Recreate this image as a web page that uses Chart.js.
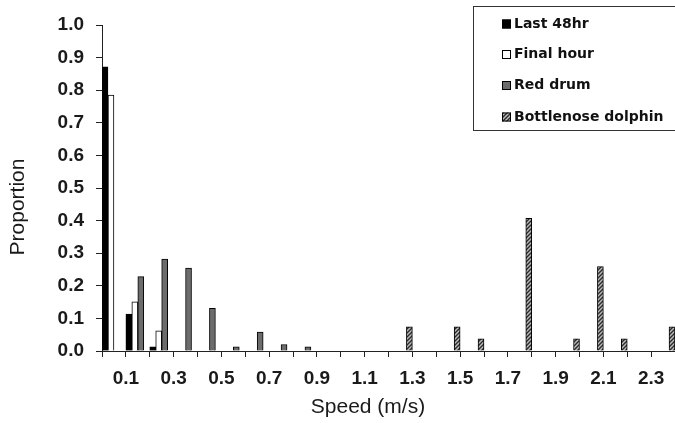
<!DOCTYPE html>
<html>
<head>
<meta charset="utf-8">
<script src="https://cdn.jsdelivr.net/npm/chart.js@4.4.1/dist/chart.umd.min.js"></script>
<style>
  html, body { margin: 0; padding: 0; background: #fff; }
  #wrap { width: 675px; height: 423px; position: relative; }
</style>
</head>
<body>
<div id="wrap"><canvas id="c" width="675" height="423"></canvas></div>
<script>
// Speed bins (upper bound of each 0.1 m/s bin)
const speedBins = ["0.1","0.2","0.3","0.4","0.5","0.6","0.7","0.8","0.9","1.0","1.1","1.2",
                   "1.3","1.4","1.5","1.6","1.7","1.8","1.9","2.0","2.1","2.2","2.3","2.4"];
const seriesNames = ["Last 48hr", "Final hour", "Red drum", "Bottlenose dolphin"];
const last48hr   = [0.872, 0.113, 0.013, 0, 0, 0, 0, 0, 0, 0, 0, 0, 0, 0, 0, 0, 0, 0, 0, 0, 0, 0, 0, 0];
const finalHour  = [0.785, 0.151, 0.062, 0, 0, 0, 0, 0, 0, 0, 0, 0, 0, 0, 0, 0, 0, 0, 0, 0, 0, 0, 0, 0];
const redDrum    = [0, 0.228, 0.282, 0.254, 0.131, 0.013, 0.058, 0.020, 0.013, 0, 0, 0, 0, 0, 0, 0, 0, 0, 0, 0, 0, 0, 0, 0];
const dolphin    = [0, 0, 0, 0, 0, 0, 0, 0, 0, 0, 0, 0, 0.074, 0, 0.074, 0.037, 0, 0.407, 0, 0.037, 0.259, 0.037, 0, 0.074];
const yTickStep = 0.1;
const xLabelsShown = ["0.1","0.3","0.5","0.7","0.9","1.1","1.3","1.5","1.7","1.9","2.1","2.3"];

function hatchPattern() {
  const p = document.createElement('canvas');
  p.width = 4; p.height = 4;
  const g = p.getContext('2d');
  g.fillStyle = '#bdbdbd';
  g.fillRect(0, 0, 4, 4);
  g.strokeStyle = '#2a2a2a';
  g.lineWidth = 1.4;
  g.beginPath();
  g.moveTo(-1, 5); g.lineTo(5, -1);
  g.moveTo(-1, 1); g.lineTo(1, -1);
  g.moveTo(3, 5); g.lineTo(5, 3);
  g.stroke();
  return document.getElementById('c').getContext('2d').createPattern(p, 'repeat');
}
const hatch = hatchPattern();
const fills = ['#000000', '#ffffff', '#6c6c6c', hatch];

const overlay = {
  id: 'overlay',
  afterDraw(chart) {
    const ctx = chart.ctx;
    ctx.save();
    // axis titles
    ctx.fillStyle = '#1a1a1a';
    ctx.font = '21px "Liberation Sans"';
    ctx.textAlign = 'center';
    ctx.textBaseline = 'middle';
    ctx.fillText('Speed (m/s)', 368, 407);
    ctx.save();
    ctx.translate(18, 207);
    ctx.rotate(-Math.PI / 2);
    ctx.fillText('Proportion', 0, 0);
    ctx.restore();
    // legend box
    ctx.strokeStyle = '#333';
    ctx.lineWidth = 1;
    ctx.fillStyle = '#fff';
    ctx.fillRect(473.5, 6.5, 210, 124);
    ctx.strokeRect(473.5, 6.5, 210, 124);
    const rows = [23.5, 54, 85, 116.5];
    ctx.font = 'bold 14px "DejaVu Sans"';
    ctx.textAlign = 'left';
    chart.data.datasets.forEach((ds, i) => {
      const y = rows[i];
      ctx.fillStyle = ds.backgroundColor;
      ctx.fillRect(502, y - 4, 9, 9);
      ctx.strokeStyle = '#000';
      ctx.strokeRect(502.5, y - 3.5, 8, 8);
      ctx.fillStyle = '#111';
      ctx.fillText(ds.label, 514, y + 0.5);
    });
    ctx.restore();
  }
};

new Chart(document.getElementById('c'), {
  type: 'bar',
  data: {
    labels: speedBins,
    datasets: [
      { label: seriesNames[0], data: last48hr,  backgroundColor: fills[0], borderColor: '#000', borderWidth: 1 },
      { label: seriesNames[1], data: finalHour, backgroundColor: fills[1], borderColor: '#000', borderWidth: 1 },
      { label: seriesNames[2], data: redDrum,   backgroundColor: fills[2], borderColor: '#000', borderWidth: 1 },
      { label: seriesNames[3], data: dolphin,   backgroundColor: fills[3], borderColor: '#000', borderWidth: 1 }
    ]
  },
  options: {
    responsive: false,
    animation: false,
    maintainAspectRatio: false,
    datasets: { bar: { barPercentage: 1.0, categoryPercentage: 1.0, borderSkipped: 'bottom' } },
    layout: { padding: { top: 25, left: 0, right: 0, bottom: 0 } },
    plugins: { legend: { display: false }, tooltip: { enabled: false } },
    scales: {
      x: {
        type: 'category',
        offset: true,
        grid: { offset: true, drawOnChartArea: false, drawTicks: true, tickLength: 6, color: '#222' },
        border: { color: '#222', width: 1 },
        ticks: {
          autoSkip: false, maxRotation: 0, minRotation: 0,
          padding: 10, labelOffset: 12,
          color: '#1a1a1a', font: { family: 'Liberation Sans', size: 19, weight: 'bold' },
          callback: function (v, i) { const l = this.getLabelForValue(v); return xLabelsShown.includes(l) ? l : ''; }
        },
        afterFit: s => { s.height = 72; }
      },
      y: {
        min: 0, max: 1,
        grid: { drawOnChartArea: false, drawTicks: true, tickLength: 6, color: '#222' },
        border: { color: '#222', width: 1 },
        ticks: {
          stepSize: yTickStep, padding: 12,
          color: '#1a1a1a', font: { family: 'Liberation Sans', size: 19, weight: 'bold' },
          callback: v => Number(v).toFixed(1)
        },
        afterFit: s => { s.width = 102; }
      }
    }
  },
  plugins: [overlay]
});
</script>
</body>
</html>
